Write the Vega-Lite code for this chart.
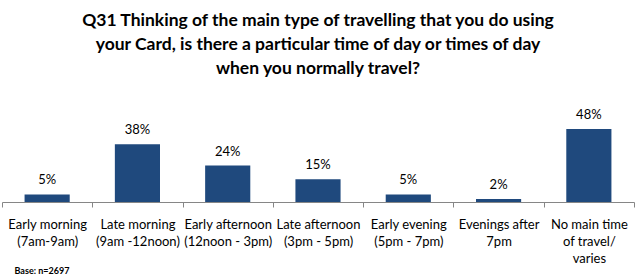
{
  "$schema": "https://vega.github.io/schema/vega-lite/v6.json",
  "width": 632,
  "height": 76,
  "padding": {"left": 1, "top": 11, "right": 2, "bottom": 0},
  "title": {
    "text": ["Q31 Thinking of the main type of travelling that you do using", "your Card, is there a particular time of day or times of day", "when you normally travel?"],
    "font": "Lato",
    "fontSize": 17.5,
    "fontWeight": "bold",
    "color": "#000000",
    "lineHeight": 24,
    "anchor": "middle",
    "frame": "group",
    "offset": 32
  },
  "data": {
    "values": [
      {"cat": "Early morning|(7am-9am)", "pct": 0.05},
      {"cat": "Late morning|(9am -12noon)", "pct": 0.38},
      {"cat": "Early afternoon|(12noon - 3pm)", "pct": 0.24},
      {"cat": "Late afternoon|(3pm - 5pm)", "pct": 0.15},
      {"cat": "Early evening|(5pm - 7pm)", "pct": 0.05},
      {"cat": "Evenings after|7pm", "pct": 0.02},
      {"cat": "No main time|of travel/|varies", "pct": 0.48}
    ]
  },
  "encoding": {
    "x": {
      "field": "cat",
      "type": "nominal",
      "sort": null,
      "scale": {"paddingInner": 0, "paddingOuter": 0},
      "axis": {
        "title": "Base: n=2697",
        "titleFont": "Lato",
        "titleFontSize": 9,
        "titleFontWeight": "bold",
        "titleColor": "#000000",
        "titleAnchor": "start",
        "titleAlign": "left",
        "titleBaseline": "top",
        "titleX": 12,
        "titleY": 64,
        "labelExpr": "split(datum.label, '|')",
        "labelAngle": 0,
        "labelFont": "Lato",
        "labelFontSize": 13,
        "labelLineHeight": 17,
        "labelColor": "#000000",
        "labelPadding": 11,
        "labelLimit": 0,
        "tickBand": "extent",
        "tickSize": 5,
        "tickColor": "#868686",
        "domainColor": "#868686"
      }
    },
    "y": {
      "field": "pct",
      "type": "quantitative",
      "scale": {"domain": [0, 0.5]},
      "axis": null
    }
  },
  "layer": [
    {"mark": {"type": "bar", "color": "#1F497D", "width": {"band": 0.5}}},
    {
      "mark": {"type": "text", "font": "Lato", "fontSize": 13, "color": "#000000", "baseline": "alphabetic", "dy": -10},
      "encoding": {"text": {"field": "pct", "type": "quantitative", "format": ".0%"}}
    }
  ],
  "config": {"view": {"stroke": null}, "background": "#ffffff"}
}
